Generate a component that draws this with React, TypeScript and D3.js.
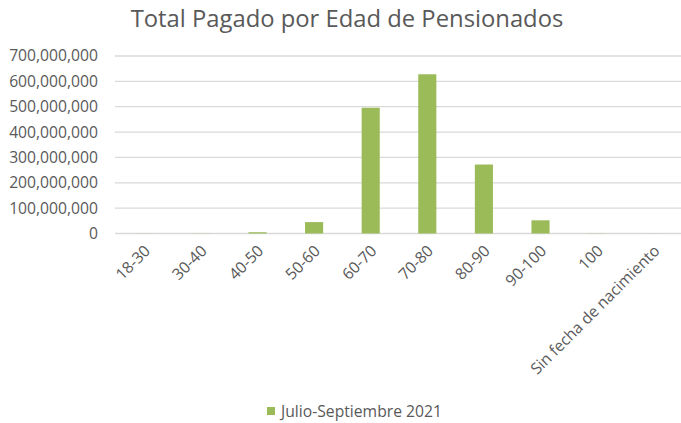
import React from "react";
import * as d3 from "d3";

const categories = ["18-30", "30-40", "40-50", "50-60", "60-70", "70-80", "80-90", "90-100", "100", "Sin fecha de nacimiento"];
const values = [300000, 500000, 5000000, 45000000, 496000000, 628000000, 272000000, 52000000, 600000, 200000];
const yTicks = [0, 100000000, 200000000, 300000000, 400000000, 500000000, 600000000, 700000000];
const seriesName = "Julio-Septiembre 2021";
const title = "Total Pagado por Edad de Pensionados";

const W = 681, H = 423;
const FONT = "'Open Sans', 'Noto Sans', sans-serif";
const TXT = "#595959";
const BAR = "#9BBB59";
const FS = 15.7;

export default function App() {
  const x = d3.scaleBand<string>().domain(categories).range([116, 682]).paddingInner(0.68).paddingOuter(0.34);
  const y = d3.scaleLinear().domain([0, 700000000]).range([233.5, 56]);
  const fmt = d3.format(",");
  return (
    <svg width={W} height={H} style={{ position: "absolute", left: 0, top: 0, background: "#fff" }} fontFamily={FONT}>
      <text x={347} y={27} textAnchor="middle" fontSize={23.8} fill={TXT}>{title}</text>
      {yTicks.map((t) => (
        <g key={t}>
          <line x1={115} x2={681} y1={y(t)} y2={y(t)} stroke="#D9D9D9" strokeWidth={1.3} />
          <text x={98} y={y(t)} dy="0.35em" textAnchor="end" fontSize={FS} fill={TXT}>{fmt(t)}</text>
        </g>
      ))}
      {categories.map((c, i) => (
        <rect key={c} x={x(c)} width={x.bandwidth()} y={y(values[i])} height={y(0) - y(values[i])} fill={BAR} />
      ))}
      {categories.map((c) => {
        const cx = (x(c) as number) + x.bandwidth() / 2;
        return (
          <text key={c} transform={`translate(${cx + 3},${248}) rotate(-45)`} textAnchor="end" dy="0.35em" fontSize={FS} fill={TXT}>{c}</text>
        );
      })}
      <rect x={267} y={407} width={8} height={8} fill={BAR} />
      <text x={281} y={416.5} fontSize={FS} fill={TXT}>{seriesName}</text>
    </svg>
  );
}
